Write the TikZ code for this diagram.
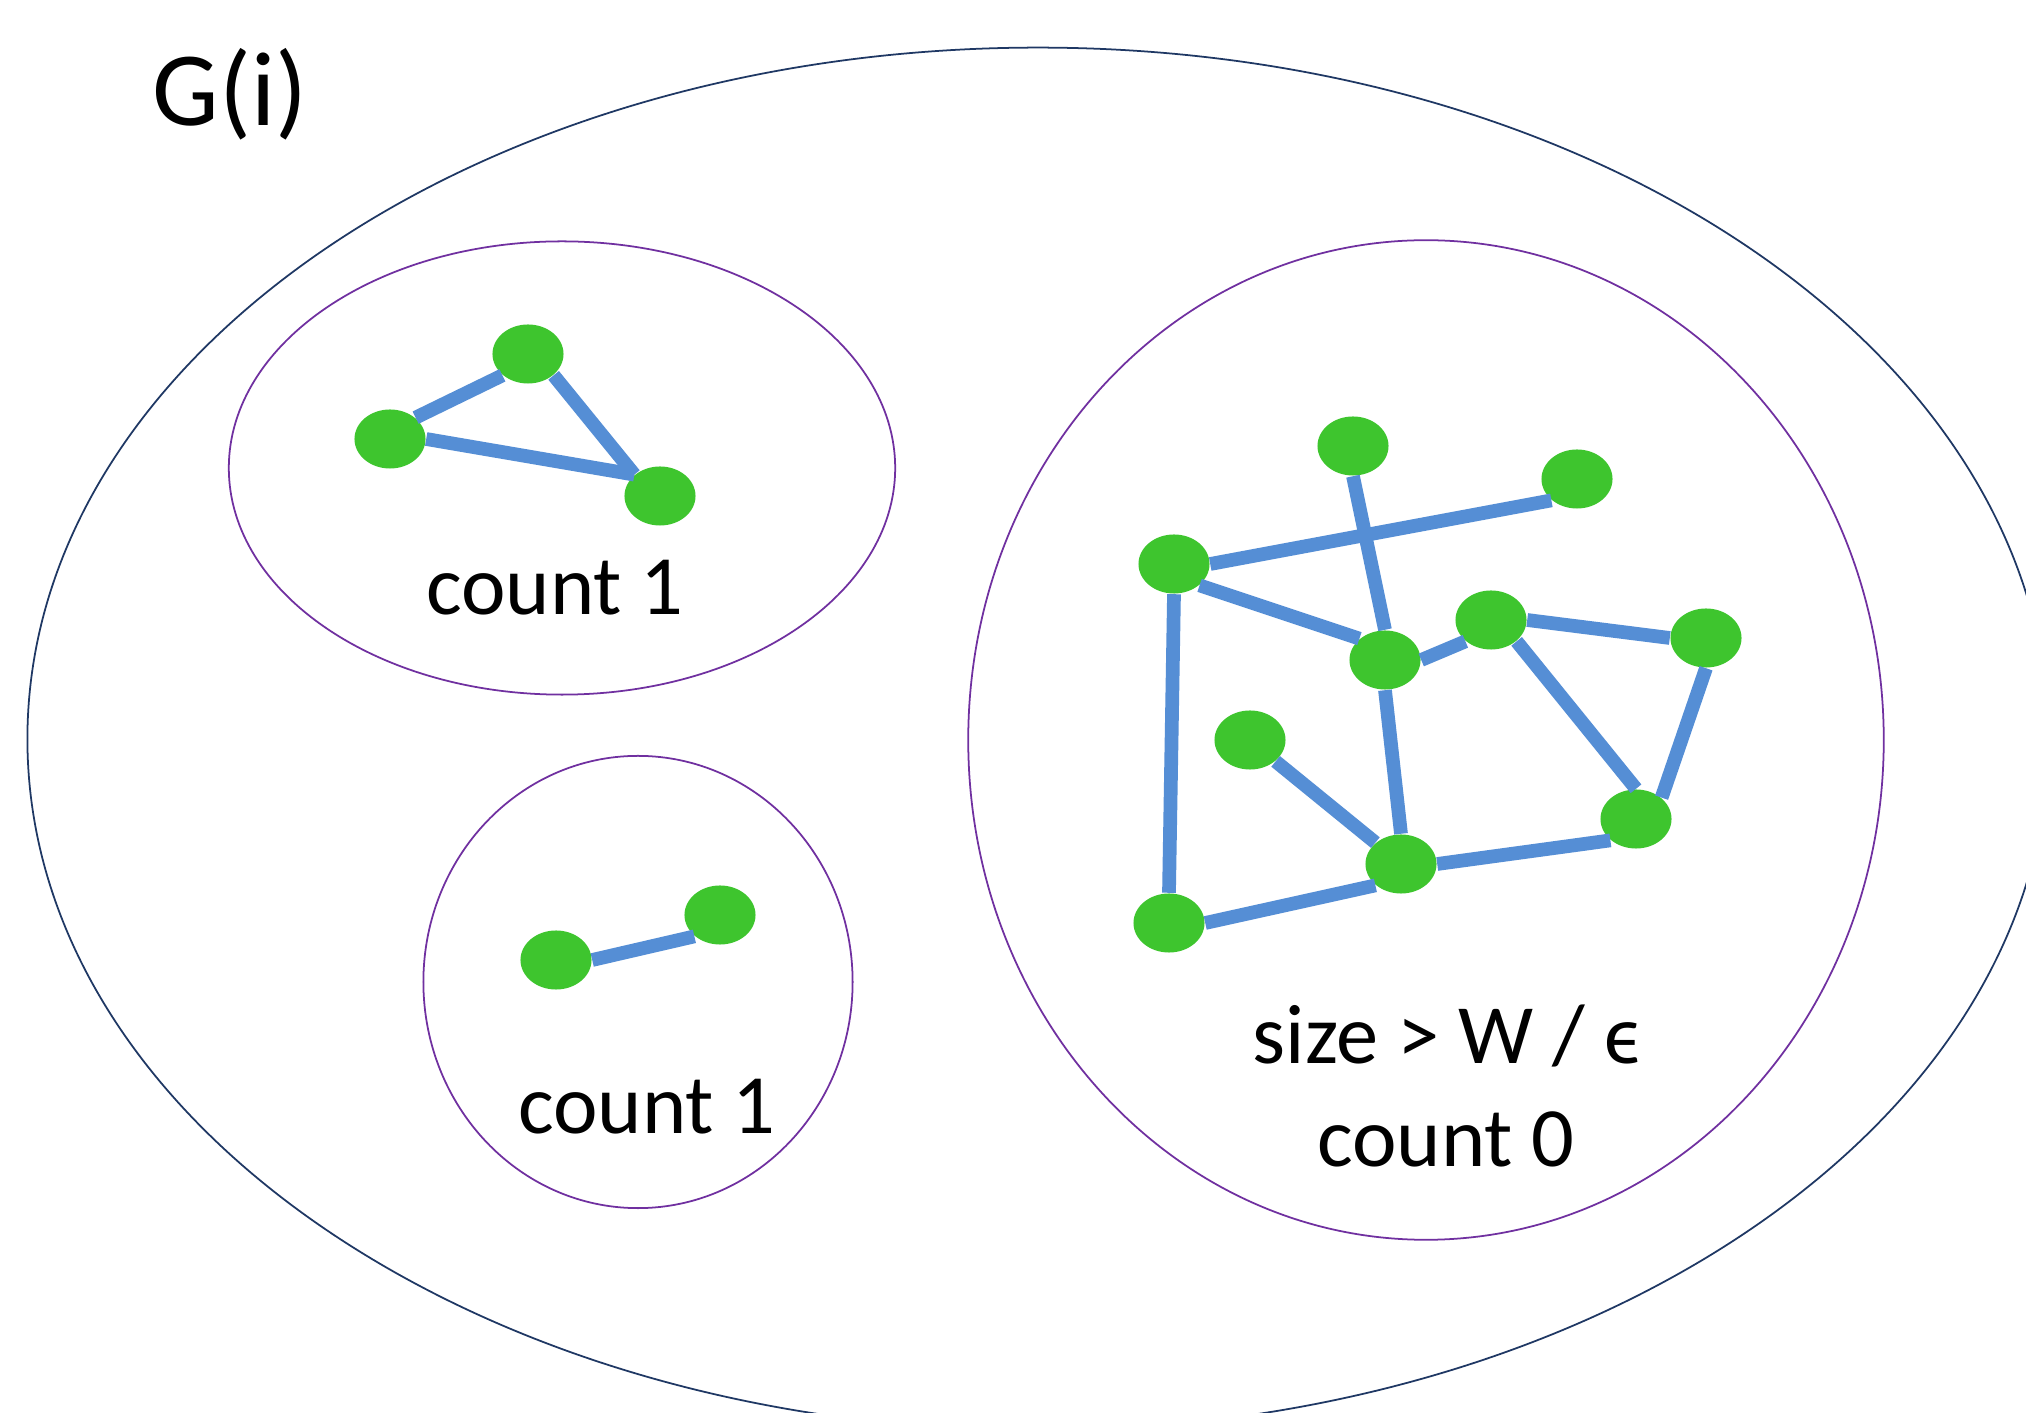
\documentclass[tikz,border=0pt]{standalone}
\usepackage{fontspec}
\setmainfont{Carlito}
\usetikzlibrary{shapes.geometric}
\definecolor{nodegreen}{RGB}{62,197,46}
\definecolor{edgeblue}{RGB}{85,142,213}
\definecolor{outerblue}{RGB}{31,56,100}
\definecolor{setpurple}{RGB}{112,48,160}
\begin{document}
\begin{tikzpicture}[x=0.01cm,y=-0.01cm,
  vert/.style={ellipse, fill=nodegreen, draw=none, minimum width=0.71cm, minimum height=0.59cm, inner sep=0pt},
  link/.style={draw=edgeblue, line width=3.9pt},
  outerset/.style={ellipse, draw=outerblue, line width=0.5pt, inner sep=0pt},
  innerset/.style={ellipse, draw=setpurple, line width=0.5pt, inner sep=0pt},
  lbl/.style={font=\fontsize{24}{28}\selectfont, anchor=base, inner sep=0pt},
  title/.style={font=\fontsize{30}{34}\selectfont, anchor=base, inner sep=0pt}]

\useasboundingbox (0,0) rectangle (2026,1413);
\clip (0,0) rectangle (2026,1413);
\fill[white] (0,0) rectangle (2026,1413);

% sets
\node[outerset, minimum width=20.20cm, minimum height=13.82cm] (G) at (1038,739) {};
\node[innerset, minimum width=6.66cm, minimum height=4.53cm] (S1) at (562,468) {};
\node[innerset, minimum width=4.29cm, minimum height=4.52cm] (S2) at (638,982) {};
\node[innerset, minimum width=9.15cm, minimum height=9.99cm] (S3) at (1426,740) {};

% labels
\node[title] (tG) at (230,126) {G(i)};
\node[lbl] (t1) at (555,615) {count 1};
\node[lbl] (t2) at (647,1134) {count 1};
\node[lbl] (t3) at (1447,1064) {size > W / ϵ};
\node[lbl] (t4) at (1446,1167) {count 0};

% triangle component
\node[vert] (A1) at (528,354) {};
\node[vert] (A2) at (390,439) {};
\node[vert] (A3) at (660,496) {};

% pair component
\node[vert] (B1) at (556,960) {};
\node[vert] (B2) at (720,915) {};

% large component
\node[vert] (C1) at (1353,446) {};
\node[vert] (C2) at (1577,479) {};
\node[vert] (C3) at (1174,564) {};
\node[vert] (C4) at (1385,660) {};
\node[vert] (C5) at (1491,620) {};
\node[vert] (C6) at (1706,638) {};
\node[vert] (C7) at (1250,740) {};
\node[vert] (C8) at (1636,819) {};
\node[vert] (C9) at (1401,864) {};
\node[vert] (C10) at (1169,923) {};

% edges
\draw[link] (A2.north east) -- (A1.south west);
\draw[link] (A2.east) -- (A3.north west);
\draw[link] (A1.south east) -- (A3.north west);

\draw[link] (B1.east) -- (B2.south west);

\draw[link] (C1.south) -- (C4.north);
\draw[link] (C3.east) -- (C2.south west);
\draw[link] (C3.south east) -- (C4.north west);
\draw[link] (C3.south) -- (C10.north);
\draw[link] (C4.east) -- (C5.south west);
\draw[link] (C5.east) -- (C6.west);
\draw[link] (C5.south east) -- (C8.north);
\draw[link] (C6.south) -- (C8.north east);
\draw[link] (C4.south) -- (C9.north);
\draw[link] (C7.south east) -- (C9.north west);
\draw[link] (C9.east) -- (C8.south west);
\draw[link] (C10.east) -- (C9.south west);
\end{tikzpicture}
\end{document}
